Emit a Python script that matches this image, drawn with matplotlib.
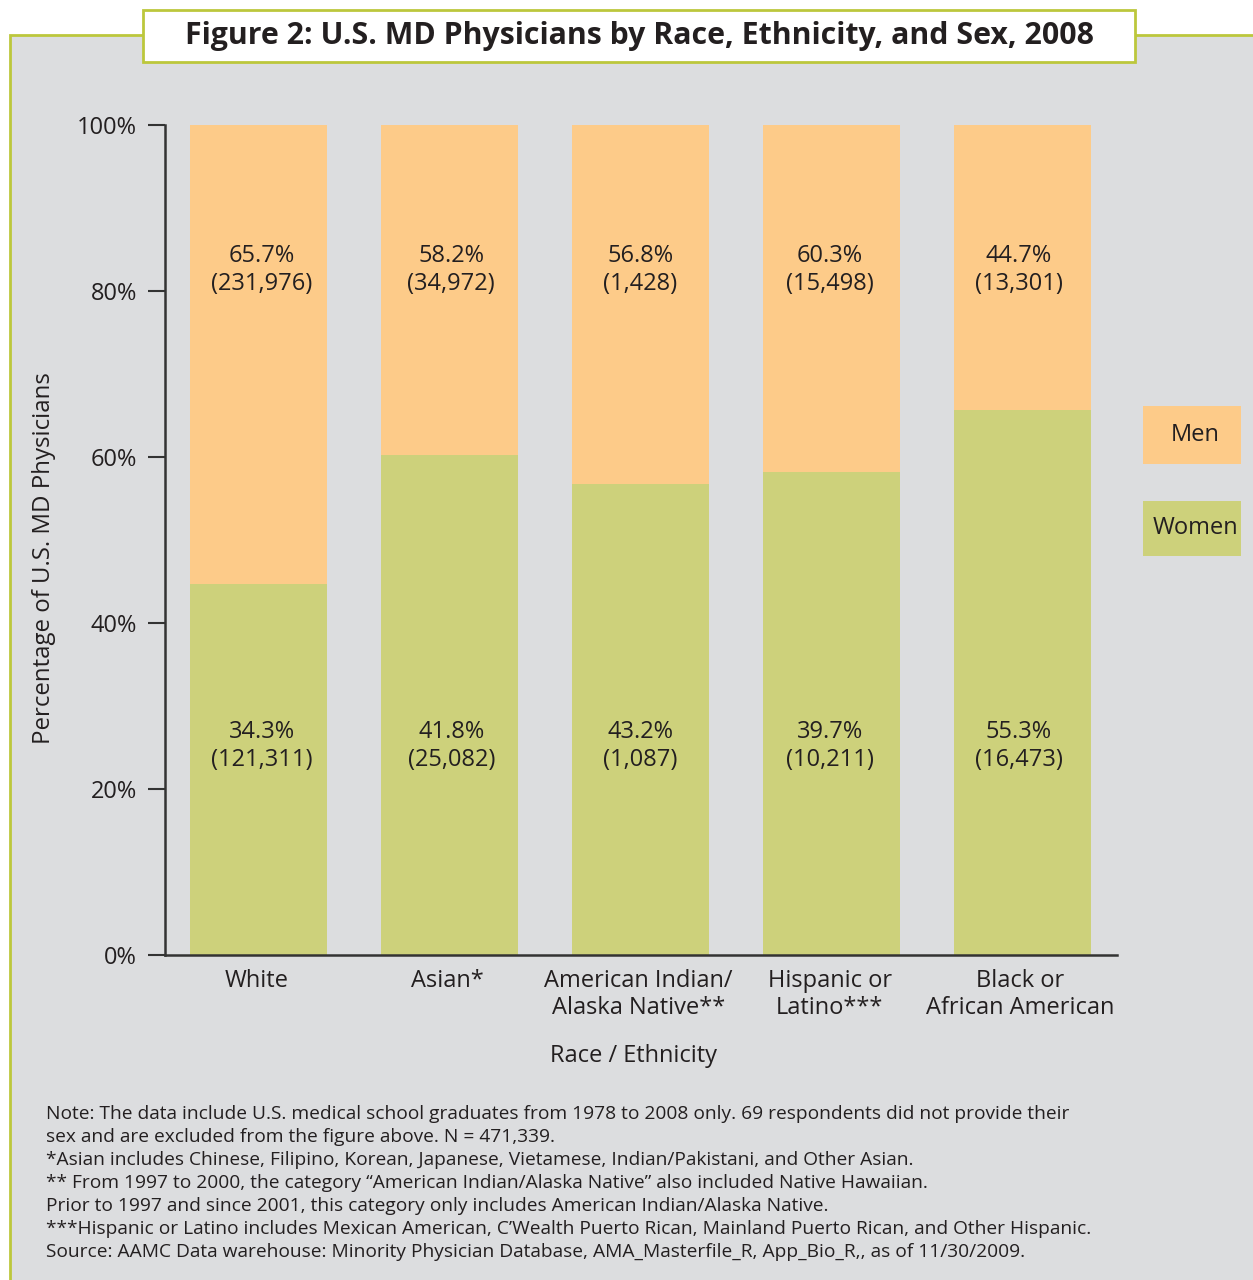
import numpy as np
import matplotlib
matplotlib.use('Agg')
import matplotlib.pyplot as plt
from matplotlib.patches import Rectangle

plt.rcParams['font.family'] = ['Open Sans', 'DejaVu Sans']

categories = ['White', 'Asian*', 'American Indian/\nAlaska Native**',
              'Hispanic or\nLatino***', 'Black or\nAfrican American']
# segment heights as drawn in the figure (percent)
women_height = [44.7, 60.3, 56.8, 58.2, 65.7]
men_pct = [65.7, 58.2, 56.8, 60.3, 44.7]
men_n = ['231,976', '34,972', '1,428', '15,498', '13,301']
women_pct = [34.3, 41.8, 43.2, 39.7, 55.3]
women_n = ['121,311', '25,082', '1,087', '10,211', '16,473']
yticks = [0, 20, 40, 60, 80, 100]

notes = [
    'Note: The data include U.S. medical school graduates from 1978 to 2008 only. 69 respondents did not provide their',
    'sex and are excluded from the figure above. N = 471,339.',
    '*Asian includes Chinese, Filipino, Korean, Japanese, Vietamese, Indian/Pakistani, and Other Asian.',
    '** From 1997 to 2000, the category \u201cAmerican Indian/Alaska Native\u201d also included Native Hawaiian.',
    'Prior to 1997 and since 2001, this category only includes American Indian/Alaska Native.',
    '***Hispanic or Latino includes Mexican American, C\u2019Wealth Puerto Rican, Mainland Puerto Rican, and Other Hispanic.',
    'Source: AAMC Data warehouse: Minority Physician Database, AMA_Masterfile_R, App_Bio_R,, as of 11/30/2009.',
]

MEN = '#fdcb89'
WOMEN = '#cdd17b'
BG = '#dcdddf'
OLIVE = '#bcc73c'
TXT = '#231f20'

W, H = 1253, 1280
fig = plt.figure(figsize=(W / 100, H / 100), dpi=100)
fig.patch.set_facecolor('white')

# gray panel with olive border
fig.patches.append(Rectangle((10 / W, -0.01), 1.01, 1 - 35 / H + 0.01,
                             transform=fig.transFigure, facecolor=BG,
                             edgecolor=OLIVE, lw=2, zorder=-2))
# title box
fig.patches.append(Rectangle((143 / W, 1 - 62 / H), (1135 - 143) / W, 52 / H,
                             transform=fig.transFigure, facecolor='white',
                             edgecolor=OLIVE, lw=2, zorder=-1))
fig.text(639 / W, 1 - 36 / H, 'Figure 2: U.S. MD Physicians by Race, Ethnicity, and Sex, 2008',
         ha='center', va='center', fontsize=21.8, fontweight='bold', color=TXT)

ax = fig.add_axes([165 / W, 1 - 955 / H, (1117 - 165) / W, (955 - 125) / H])
ax.set_zorder(5)
ax.set_facecolor('none')
x = np.arange(len(categories))
bw = 0.72
ax.bar(x, women_height, width=bw, color=WOMEN, zorder=2)
ax.bar(x, 100 - np.array(women_height), bottom=women_height, width=bw, color=MEN, zorder=2)

for i in range(len(categories)):
    ax.text(x[i] + 0.018 - 0.009 * i, 82.5, f'{men_pct[i]}%\n({men_n[i]})', ha='center',
            va='center', fontsize=17, color=TXT, linespacing=1.25, zorder=3)
    ax.text(x[i] + 0.018 - 0.009 * i, 25.2, f'{women_pct[i]}%\n({women_n[i]})', ha='center',
            va='center', fontsize=17, color=TXT, linespacing=1.25, zorder=3)

ax.set_xlim(-0.49, 4.495)
ax.set_ylim(0, 100)
ax.set_yticks(yticks)
ax.set_yticklabels([f'{v}%' for v in yticks], fontsize=17, color=TXT)
ax.set_xticks(x - 0.01)
ax.set_xticklabels(categories, fontsize=17, color=TXT, linespacing=1.2)
ax.tick_params(axis='y', length=12, width=1.5, color='#333333', pad=8)
ax.tick_params(axis='x', length=0, pad=10)
for s in ['top', 'right']:
    ax.spines[s].set_visible(False)
for s in ['left', 'bottom']:
    ax.spines[s].set_color('#333333')
    ax.spines[s].set_linewidth(1.8)

fig.text(44 / W, 1 - 558 / H, 'Percentage of U.S. MD Physicians', rotation=90,
         ha='center', va='center', fontsize=17.3, color=TXT)
fig.text(633 / W, 1 - 1056 / H, 'Race / Ethnicity', ha='center', va='center',
         fontsize=17, color=TXT)

# legend boxes
for lab, col, y0, y1 in [('Men', MEN, 406, 464), ('Women', WOMEN, 501, 556)]:
    fig.patches.append(Rectangle((1143 / W, 1 - y1 / H), 98 / W, (y1 - y0) / H,
                                 transform=fig.transFigure, facecolor=col,
                                 edgecolor='none', zorder=2))
    fig.text(1195 / W, 1 - (y0 + y1) / 2 / H, lab, ha='center', va='center',
             fontsize=17, color=TXT, zorder=3)

for k, line in enumerate(notes):
    fig.text(46 / W, 1 - (1114 + 23 * k) / H, line, ha='left', va='center',
             fontsize=13.8, color=TXT)

fig.savefig('out.png', dpi=100, facecolor=fig.get_facecolor())
